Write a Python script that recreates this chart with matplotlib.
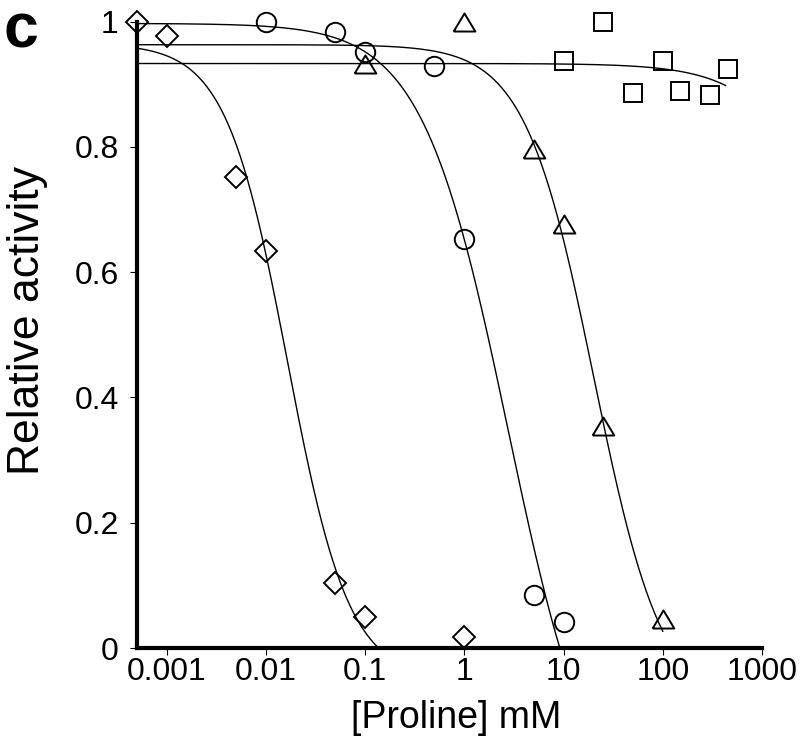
#Proline_inhibition_curves

#Importing_Library
import numpy as np
import matplotlib
matplotlib.use('Agg')
import matplotlib.pyplot as plt

plt.rcParams['font.family'] = ['Liberation Sans', 'DejaVu Sans']

#Data_read_off_the_figure
dia_x = [0.0005, 0.001, 0.005, 0.01, 0.05, 0.1, 1]
dia_y = [1.0, 0.977, 0.752, 0.633, 0.104, 0.050, 0.018]

circ_x = [0.01, 0.05, 0.1, 0.5, 1, 5, 10]
circ_y = [1.0, 0.984, 0.951, 0.929, 0.653, 0.085, 0.041]

tri_x = [0.1, 1, 5, 10, 25, 100]
tri_y = [0.932, 0.999, 0.796, 0.677, 0.355, 0.046]

sq_x = [10, 25, 50, 100, 150, 300, 450]
sq_y = [0.937, 1.0, 0.886, 0.937, 0.889, 0.883, 0.925]

#Fitted_curve_parameters (diamond, circle, triangle, square)
fit_top = [0.965, 0.997, 0.963, 0.933]
fit_bottom = [-0.05, -0.3, -0.1, 0.0]
fit_ic50 = [0.0165, 2.76, 20.2, 11000]
fit_hill = [1.4, 1.0, 1.25, 1.0]
fit_xmax = [0.13, 9.4, 100, 430]

xtick_vals = [0.001, 0.01, 0.1, 1, 10, 100, 1000]
xtick_labels = ['0.001', '0.01', '0.1', '1', '10', '100', '1000']
ytick_vals = [0, 0.2, 0.4, 0.6, 0.8, 1]
ytick_labels = ['0', '0.2', '0.4', '0.6', '0.8', '1']

#Figure
fig = plt.figure(figsize=(8, 7.53), dpi=100)
ax = fig.add_axes([0.171, 0.1394, 0.7815, 0.832])

#Fitted_curves
for top, bot, ic50, n, xmax in zip(fit_top, fit_bottom, fit_ic50, fit_hill, fit_xmax):
    xs = np.logspace(np.log10(0.0005), np.log10(xmax), 400)
    ys = bot + (top - bot) / (1 + (xs / ic50) ** n)
    ax.plot(xs, ys, color='black', lw=1.0)

#Data_points
tri_marker = [(-1.2, -1), (1.2, -1), (0, 1), (-1.2, -1)]
mk = dict(linestyle='none', mfc='none', mec='black', mew=1.4, clip_on=False, zorder=3)
ax.plot(dia_x, dia_y, marker='D', ms=11.5, **mk)
ax.plot(circ_x, circ_y, marker='o', ms=14, **mk)
ax.plot(tri_x, tri_y, marker=tri_marker, ms=15.6, **mk)
ax.plot(sq_x, sq_y, marker='s', ms=13.5, **mk)

#Axes_style
ax.set_xscale('log')
ax.set_xlim(0.0005, 1000)
ax.set_ylim(0, 1)
ax.set_xticks(xtick_vals)
ax.set_xticklabels(xtick_labels)
ax.xaxis.set_minor_locator(matplotlib.ticker.NullLocator())
ax.set_yticks(ytick_vals)
ax.set_yticklabels(ytick_labels)
ax.spines['top'].set_visible(False)
ax.spines['right'].set_visible(False)
ax.spines['left'].set_linewidth(3)
ax.spines['bottom'].set_linewidth(3)
ax.tick_params(axis='both', direction='out', width=0.8, labelsize=23)
ax.tick_params(axis='y', length=5, pad=8)
ax.tick_params(axis='x', length=5, pad=1.5)

ax.set_xlabel('[Proline] mM', fontsize=27)
ax.xaxis.set_label_coords(0.511, -0.083)
ax.set_ylabel('Relative activity', fontsize=32)
ax.yaxis.set_label_coords(-0.142, 0.5235)

#Panel_letter
fig.text(3 / 800, 1 - 47 / 753, 'c', fontsize=45, fontweight='bold', va='baseline')

plt.savefig('out.png', dpi=100)
